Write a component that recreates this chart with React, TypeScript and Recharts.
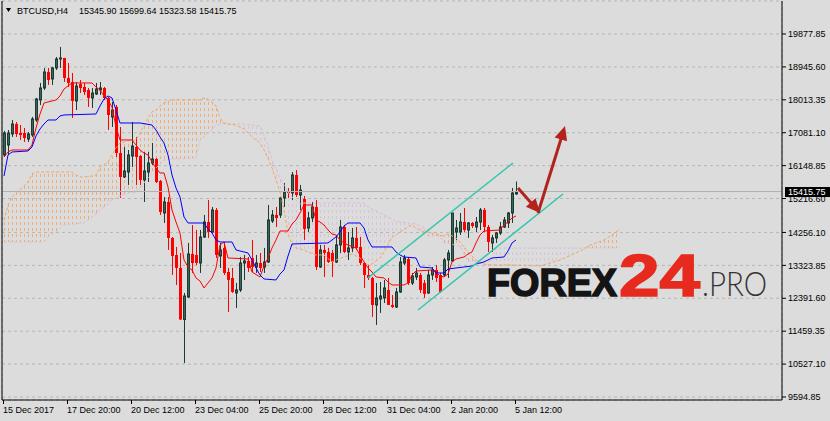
import React from "react";
import {
  ComposedChart,
  Bar,
  Line,
  Area,
  XAxis,
  YAxis,
  CartesianGrid,
  ReferenceLine,
} from "recharts";

const W = 830;
const H = 421;
const FONT = "'Liberation Sans', Arial, sans-serif";

const symbol = "BTCUSD,H4";
const totalBars = 195;

const xLabels = [
  "15 Dec 2017",
  "17 Dec 20:00",
  "20 Dec 12:00",
  "23 Dec 04:00",
  "25 Dec 20:00",
  "28 Dec 12:00",
  "31 Dec 04:00",
  "2 Jan 20:00",
  "5 Jan 12:00",
];
const xLabelEvery = 16;
const gridEvery = 8;

const yTicks = [
  9594.85, 10527.1, 11459.35, 12391.6, 13323.85, 14256.1, 15216.6, 16148.85,
  17081.1, 18013.35, 18945.6, 19877.85,
];

// BTCUSD H4 candles
const opens = [
  16450, 16734, 17046, 17329, 17074, 17074, 16904, 17017, 17442, 18009,
  18349, 18802, 18604, 18916, 19170, 19199, 18633, 18519, 17981, 18463,
  18377, 18292, 18066, 18179, 18292, 18349, 18066, 17528, 17811, 16507,
  15828, 15969, 16422, 16677, 16422, 15743, 15969, 16224, 16337, 15714,
  14808, 15119, 14100, 13618, 13250, 11790, 12428, 13647, 13618, 13391,
  14128, 14552, 14269, 14893, 13590, 13817, 13136, 12967, 12542, 12627,
  13391, 13448, 13533, 13278, 13391, 13278, 13419, 14581, 14751, 14751,
  15233, 15402, 15374, 15885, 15317, 15204, 14383, 14666, 14978, 13278,
  13760, 13703, 13675, 13419, 13902, 14411, 13703, 13817, 14100, 13845,
  13391, 13051, 12967, 12202, 12371, 12400, 12627, 12202, 12145, 12570,
  13391, 13505, 12825, 12995, 13051, 12825, 12542, 13051, 13193, 13051,
  13051, 13476, 13448, 14269, 14269, 14552, 14326, 14524, 14411, 14552,
  14893, 14411, 13958, 14100, 14241, 14411, 14524, 14807, 15345.9,
];
const highs = [
  17131, 17159, 17442, 17385, 17300, 17215, 17102, 17528, 18066, 18491,
  18916, 18916, 18944, 19227, 19510, 19199, 19057, 18774, 18519, 18576,
  18491, 18349, 18349, 18491, 18519, 18377, 18094, 17952, 17867, 17244,
  16677, 16592, 17385, 16961, 16450, 16535, 16535, 16791, 16365, 15743,
  15261, 15261, 14128, 13845, 13675, 12542, 13958, 14467, 14326, 14326,
  14751, 15176, 14978, 14949, 13958, 13986, 13250, 13250, 12825, 13561,
  13618, 13561, 14043, 13618, 13675, 13817, 15034, 14893, 14978, 15261,
  15658, 15516, 15969, 16026, 15601, 15289, 14836, 15119, 15176, 13902,
  13902, 13817, 13760, 14184, 14609, 14467, 14269, 14383, 14411, 14128,
  13419, 13334, 12995, 12825, 12853, 12910, 12967, 12485, 12684, 13561,
  13618, 13561, 13108, 13250, 13108, 12910, 13193, 13278, 13334, 13108,
  13533, 13760, 14807, 14609, 14807, 14949, 14552, 14552, 14694, 14949,
  14949, 14467, 14184, 14269, 14552, 14694, 14836, 15516, 15699.64,
];
const lows = [
  16394, 16450, 16961, 16961, 16876, 16819, 16819, 16961, 17385, 17867,
  18292, 18434, 18434, 18859, 18916, 18519, 18377, 17499, 17726, 18207,
  18150, 17811, 17782, 18150, 18150, 18009, 17159, 17244, 16394, 15233,
  15800, 15601, 16111, 15601, 15601, 15119, 15686, 16167, 15658, 14751,
  14524, 13760, 13051, 12768, 11776, 10558, 12400, 13108, 13334, 13108,
  14100, 14100, 14241, 13533, 13250, 13051, 12003, 12542, 12116, 12570,
  12910, 13136, 13136, 13108, 13136, 13108, 13391, 14524, 14411, 14666,
  14978, 15233, 15176, 15261, 14893, 14043, 14269, 14552, 13193, 13250,
  12995, 13391, 12995, 13391, 13675, 13675, 13476, 13703, 13760, 13334,
  12684, 12910, 11862, 11635, 11975, 12258, 12258, 12116, 12116, 12542,
  13334, 12768, 12768, 12910, 12542, 12400, 12514, 12910, 12853, 12542,
  12995, 12967, 13419, 14043, 14184, 14269, 14100, 14383, 14269, 14326,
  14269, 13703, 13703, 13958, 14184, 14383, 14383, 14524, 15323.58,
];
const closes = [
  17074, 17074, 17329, 17046, 17017, 16932, 17046, 17471, 18037, 18349,
  18802, 18576, 18916, 19170, 19199, 18633, 18491, 17981, 18405, 18349,
  18235, 18066, 18207, 18320, 18349, 18066, 17584, 17726, 16507, 15828,
  15998, 16450, 16706, 16394, 15743, 15998, 16224, 16337, 15686, 14836,
  15119, 14100, 13590, 13250, 11790, 12456, 13647, 13391, 13391, 14128,
  14552, 14269, 14893, 13618, 13760, 13108, 12910, 12570, 12627, 13391,
  13448, 13250, 13278, 13391, 13250, 13419, 14609, 14751, 14666, 15233,
  15402, 15374, 15885, 15317, 15459, 14354, 14666, 14978, 13278, 13760,
  13675, 13419, 13419, 13902, 14411, 13703, 13817, 14100, 13817, 13391,
  13051, 12967, 12202, 12400, 12457, 12684, 12202, 12145, 12570, 13419,
  13533, 12825, 13023, 13108, 12627, 12514, 13051, 13193, 12967, 12570,
  13476, 13675, 14807, 14383, 14552, 14326, 14524, 14439, 14552, 14893,
  14411, 13986, 14100, 14241, 14411, 14609, 14807, 15374, 15415.75,
];

// Ichimoku: Tenkan-sen (red) turning points
const tenkanBars = [
  0, 1, 2, 6, 7, 8, 9, 10, 13, 14, 15, 16, 17, 22, 23, 24, 25, 26, 27, 28, 29,
  32, 33, 34, 35, 36, 37, 38, 39, 40, 41, 42, 43, 44, 45, 46, 47, 48, 49, 50,
  51, 52, 53, 54, 55, 56, 61, 62, 64, 65, 66, 67, 68, 69, 71, 72, 73, 74, 75,
  77, 78, 79, 80, 81, 82, 83, 84, 85, 86, 88, 89, 90, 91, 92, 93, 95, 96, 97,
  100, 101, 102, 103, 107, 108, 109, 110, 111, 112, 113, 115, 116, 117, 118,
  119, 120, 124, 125, 126, 127, 128,
];
const tenkanVals = [
  16394, 16536, 16592, 16592, 16734, 17215, 17612, 17924, 18009, 18122, 18320,
  18405, 18491, 18491, 18377, 18292, 18122, 18009, 17811, 17244, 16876, 16876,
  16734, 16592, 16507, 16450, 16252, 16082, 15941, 15941, 15544, 14893, 14552,
  14241, 13476, 13278, 13193, 12967, 12881, 12683, 12825, 12967, 13250, 13901,
  13986, 13533, 13505, 13136, 12995, 13306, 13533, 13816, 14043, 14297, 14297,
  14496, 14609, 14808, 15034, 15034, 14609, 14552, 14467, 14326, 14212, 14184,
  14043, 13958, 13901, 13816, 13618, 13420, 13250, 13136, 12995, 12967, 12853,
  12768, 12768, 12825, 13051, 13164, 13193, 13136, 13023, 12995, 13079, 13420,
  13505, 13561, 13646, 13703, 13958, 14184, 14297, 14326, 14467, 14552, 14666,
  14722,
];

// Kijun-sen (blue) turning points
const kijunBars = [
  0, 1, 2, 6, 7, 8, 9, 10, 11, 13, 14, 15, 23, 24, 25, 26, 27, 28, 29, 34, 37,
  38, 39, 40, 41, 42, 43, 44, 45, 46, 50, 51, 52, 53, 54, 57, 58, 61, 62, 63,
  64, 65, 68, 69, 70, 71, 72, 81, 82, 83, 84, 85, 86, 89, 90, 91, 92, 97, 98,
  99, 100, 103, 104, 107, 108, 110, 111, 117, 118, 120, 122, 125, 126, 127, 128,
];
const kijunVals = [
  15856, 16450, 16536, 16564, 16677, 16989, 17187, 17329, 17442, 17442, 17556,
  17584, 17612, 17839, 18037, 18122, 18066, 17726, 17357, 17357, 17300, 17159,
  16961, 16791, 16450, 15884, 15516, 15261, 14694, 14524, 14524, 14354, 14241,
  14043, 13986, 13986, 13760, 13675, 13476, 13250, 13051, 12938, 12910, 13079,
  13193, 13589, 13930, 13958, 14043, 14128, 14269, 14439, 14524, 14524, 14382,
  14043, 13845, 13845, 13703, 13618, 13561, 13533, 13278, 13250, 13108, 13108,
  13221, 13306, 13363, 13420, 13533, 13561, 13731, 13958, 14043,
];

// Senkou span A / B (cloud), shifted 26 bars ahead
const kumoBars = [
  0, 1, 2, 5, 6, 7, 8, 10, 11, 13, 15, 17, 18, 19, 20, 22, 23, 24, 26, 27, 28,
  29, 31, 33, 34, 35, 36, 37, 38, 39, 40, 42, 48, 49, 50, 51, 52, 53, 54, 55,
  56, 58, 60, 62, 64, 65, 66, 67, 68, 69, 70, 71, 72, 73, 74, 75, 76, 78, 80,
  82, 83, 85, 87, 89, 90, 91, 92, 94, 95, 96, 97, 98, 99, 101, 102, 103, 104,
  105, 106, 107, 109, 110, 111, 112, 113, 114, 115, 116, 118, 119, 121, 122,
  123, 126, 134, 139, 143, 145, 146, 150, 152, 154,
];
const spanA = [
  14609, 15034, 15261, 15573, 15686, 15913, 15969, 15969, 15969, 15969, 15969,
  15969, 15884, 15828, 15828, 15856, 15884, 16111, 16252, 16450, 16649, 16791,
  16848, 16876, 17074, 17300, 17499, 17669, 17726, 17839, 17924, 18009, 18009,
  18009, 18066, 18037, 17952, 17839, 17499, 17357, 17329, 17300, 17187, 16961,
  16791, 16592, 16365, 16082, 15743, 15402, 14893, 14241, 13901, 13817, 13788,
  13760, 13703, 13618, 13618, 13420, 13476, 13561, 13646, 13533, 13420, 13335,
  13363, 13533, 13703, 13901, 14128, 14184, 14269, 14411, 14467, 14382, 14326,
  14269, 14269, 14241, 14184, 14156, 14212, 14156, 14099, 13986, 13845, 13703,
  13476, 13391, 13335, 13335, 13335, 13335, 13306, 13476, 13675, 13788, 13873,
  14043, 14184, 14354,
];
const spanB = [
  13986, 13986, 13986, 13986, 13986, 13986, 13986, 13986, 14128, 14269, 14467,
  14496, 14496, 14524, 14524, 14694, 14779, 14893, 15062, 15176, 15233, 15289,
  15374, 15402, 15516, 15657, 15799, 15969, 16082, 16195, 16309, 16337, 16365,
  16876, 16961, 17074, 17159, 17300, 17329, 17329, 17329, 17329, 17329, 17300,
  17272, 17017, 16734, 16309, 16082, 15799, 15601, 15402, 15261, 15176, 15062,
  15091, 15091, 15091, 15091, 15091, 15091, 15091, 15091, 15091, 15091, 14978,
  14921, 14808, 14751, 14694, 14638, 14581, 14552, 14524, 14524, 14496, 14439,
  14382, 14156, 14156, 14156, 13958, 13958, 13930, 13873, 13873, 13646, 13448,
  13448, 13448, 13448, 13448, 13817, 13817, 13817, 13817, 13817, 13817, 13817,
  13817, 13817, 13817,
];

// hand-drawn objects: [bar, price]
const channelUpper = [
  [91, 12967],
  [127.25, 16224],
];
const channelLower = [
  [103.5, 12060],
  [139.75, 15346],
];
const arrowDown = [
  [128.5, 15516],
  [134, 14808],
];
const arrowUp = [
  [133.5, 14808],
  [140.25, 17272],
];

const BG = "#dcdcdc";
const GRID = "#b6b6b6";
const BULL = "#33685a";
const BULL_EDGE = "#1e3a32";
const BEAR = "#ff0000";
const TENKAN = "#ff0000";
const KIJUN = "#0000ff";
const SPAN_A = "#f4a460";
const SPAN_B = "#d8bfd8";
const CHANNEL = "#33c6ae";
const ARROW = "#b3231e";

const last = opens.length - 1;
const lastClose = closes[last];

const rows = Array.from({ length: totalBars }, (_, i) =>
  i < opens.length
    ? { i, hl: [lows[i], highs[i]], o: opens[i], c: closes[i] }
    : { i }
);

const tenkanData = tenkanBars.map((b, k) => ({ i: b, v: tenkanVals[k] }));
const kijunData = kijunBars.map((b, k) => ({ i: b, v: kijunVals[k] }));
const spanAData = kumoBars.map((b, k) => ({ i: b, v: spanA[k] }));
const spanBData = kumoBars.map((b, k) => ({ i: b, v: spanB[k] }));

// split the cloud where the spans cross, so each piece gets its own hatch colour
type Seg = { up: boolean; pts: { i: number; r: number[] }[] };
const kumoSegs: Seg[] = [];
let lastUp: boolean | null = null;
kumoBars.forEach((b, k) => {
  const a = spanA[k];
  const s = spanB[k];
  const up = a === s && lastUp !== null ? lastUp : a > s;
  const pt = { i: b, r: [Math.min(a, s), Math.max(a, s)] };
  if (up !== lastUp) {
    if (kumoSegs.length) kumoSegs[kumoSegs.length - 1].pts.push(pt);
    kumoSegs.push({ up, pts: [pt] });
    lastUp = up;
  } else {
    kumoSegs[kumoSegs.length - 1].pts.push(pt);
  }
});

const gridBars = Array.from(
  { length: Math.floor((totalBars - 1) / gridEvery) },
  (_, k) => (k + 1) * gridEvery
);

const Candle = (p: any) => {
  const { x, y, height, payload } = p;
  if (!payload || payload.o == null) return null;
  const [lo, hi] = payload.hl;
  const top = Math.min(y, y + height);
  const h = Math.abs(height);
  const k = hi === lo ? 0 : h / (hi - lo);
  const bTop = top + (hi - Math.max(payload.o, payload.c)) * k;
  const bBot = top + (hi - Math.min(payload.o, payload.c)) * k;
  const bx = Math.round(x);
  const cx = bx + 1.5;
  const up = payload.c >= payload.o;
  const bh = Math.max(bBot - bTop, 1);
  return (
    <g>
      <line
        x1={cx}
        x2={cx}
        y1={top}
        y2={top + h}
        stroke={up ? BULL_EDGE : BEAR}
        strokeWidth={1}
      />
      {up ? (
        <rect
          x={bx + 0.5}
          y={bTop}
          width={2}
          height={bh}
          fill={BULL}
          stroke={BULL_EDGE}
          strokeWidth={1}
        />
      ) : (
        <rect x={bx} y={bTop} width={3} height={bh} fill={BEAR} />
      )}
    </g>
  );
};

const XTick = (p: any) => {
  const { x, y, payload } = p;
  const v = payload.value;
  if (v % xLabelEvery !== 0 || v / xLabelEvery >= xLabels.length) return null;
  const tx = Math.round(x) - 1;
  return (
    <g>
      <line x1={tx + 0.5} x2={tx + 0.5} y1={y} y2={y + 4} stroke="#000" />
      <text x={tx} y={y + 13} fontSize={9} fontFamily={FONT} fill="#000">
        {xLabels[v / xLabelEvery]}
      </text>
    </g>
  );
};

const PriceTag = (p: any) => {
  const vb = p.viewBox || {};
  const x = vb.x + vb.width + 3;
  const y = vb.y;
  return (
    <g>
      <rect x={x} y={y - 4.5} width={45} height={10} fill="#000" />
      <text
        x={x + 3}
        y={y + 3.5}
        fontSize={9}
        fontFamily={FONT}
        fill="#fff"
      >
        {lastClose.toFixed(2)}
      </text>
    </g>
  );
};

const ArrowShape = (p: any) => {
  const { x1, y1, x2, y2 } = p;
  const dx = x2 - x1;
  const dy = y2 - y1;
  const len = Math.hypot(dx, dy) || 1;
  const ux = dx / len;
  const uy = dy / len;
  const hl = 14;
  const hw = 6.5;
  const bx = x2 - ux * hl;
  const by = y2 - uy * hl;
  return (
    <g>
      <line
        x1={x1}
        y1={y1}
        x2={bx + ux * 2}
        y2={by + uy * 2}
        stroke={ARROW}
        strokeWidth={3}
      />
      <polygon
        points={`${x2},${y2} ${bx - uy * hw},${by + ux * hw} ${bx + uy * hw},${
          by - ux * hw
        }`}
        fill={ARROW}
      />
    </g>
  );
};

const seg = (pts: number[][]) => pts.map(([x, y]) => ({ x, y }));

export default function App() {
  return (
    <div
      style={{
        position: "fixed",
        left: 0,
        top: 0,
        width: W,
        height: H,
        background: BG,
        overflow: "hidden",
      }}
    >
      <ComposedChart
        width={W}
        height={H}
        data={rows}
        margin={{ top: 1, right: 0, bottom: 0, left: 2 }}
      >
        <defs>
          <pattern
            id="hatchUp"
            patternUnits="userSpaceOnUse"
            x={0}
            y={0}
            width={4}
            height={6}
          >
            <rect x={0} y={0} width={1} height={3} fill={SPAN_A} />
          </pattern>
          <pattern
            id="hatchDn"
            patternUnits="userSpaceOnUse"
            x={0}
            y={0}
            width={4}
            height={6}
          >
            <rect x={0} y={0} width={1} height={3} fill={SPAN_B} />
          </pattern>
        </defs>
        <XAxis
          dataKey="i"
          type="category"
          interval={0}
          height={21}
          tickSize={0}
          tickMargin={0}
          tickLine={false}
          axisLine={{ stroke: "#000" }}
          tick={<XTick />}
        />
        <XAxis
          xAxisId="num"
          dataKey="i"
          type="number"
          orientation="top"
          domain={[-0.5, totalBars - 0.5]}
          allowDataOverflow
          ticks={gridBars}
          height={0}
          tick={false}
          tickLine={false}
          axisLine={false}
        />
        <YAxis
          orientation="right"
          width={48}
          type="number"
          domain={[9509.8, 20812.7]}
          allowDataOverflow
          ticks={yTicks}
          interval={0}
          tickSize={4}
          tickMargin={2}
          tickFormatter={(v: number) => v.toFixed(2)}
          tick={{ fontSize: 9, fontFamily: FONT, fill: "#000" }}
          tickLine={{ stroke: "#000" }}
          axisLine={{ stroke: "#000" }}
        />
        <CartesianGrid
          xAxisId="num"
          stroke={GRID}
          strokeDasharray="3 3"
        />
        {kumoSegs.map((s, k) => (
          <Area
            key={"kumo" + k}
            xAxisId="num"
            data={s.pts}
            dataKey="r"
            type="linear"
            stroke="none"
            fill={s.up ? "url(#hatchUp)" : "url(#hatchDn)"}
            fillOpacity={0.85}
            dot={false}
            activeDot={false}
            isAnimationActive={false}
          />
        ))}
        <Line
          xAxisId="num"
          data={spanBData}
          dataKey="v"
          type="linear"
          stroke={SPAN_B}
          strokeDasharray="3 2"
          dot={false}
          activeDot={false}
          isAnimationActive={false}
        />
        <Line
          xAxisId="num"
          data={spanAData}
          dataKey="v"
          type="linear"
          stroke={SPAN_A}
          strokeDasharray="3 2"
          dot={false}
          activeDot={false}
          isAnimationActive={false}
        />
        <ReferenceLine
          y={lastClose}
          stroke="#b0b0b0"
          label={(p: any) => <PriceTag {...p} />}
        />
        <Bar
          dataKey="hl"
          barSize={3}
          shape={<Candle />}
          isAnimationActive={false}
        />
        <Line
          xAxisId="num"
          data={tenkanData}
          dataKey="v"
          type="linear"
          stroke={TENKAN}
          strokeWidth={1}
          dot={false}
          activeDot={false}
          isAnimationActive={false}
        />
        <Line
          xAxisId="num"
          data={kijunData}
          dataKey="v"
          type="linear"
          stroke={KIJUN}
          strokeWidth={1}
          dot={false}
          activeDot={false}
          isAnimationActive={false}
        />
        <ReferenceLine
          xAxisId="num"
          segment={seg(channelUpper)}
          stroke={CHANNEL}
          strokeWidth={1.5}
        />
        <ReferenceLine
          xAxisId="num"
          segment={seg(channelLower)}
          stroke={CHANNEL}
          strokeWidth={1.5}
        />
        <ReferenceLine
          xAxisId="num"
          segment={seg(arrowDown)}
          shape={ArrowShape}
        />
        <ReferenceLine
          xAxisId="num"
          segment={seg(arrowUp)}
          shape={ArrowShape}
        />
        <ReferenceLine xAxisId="num" x={-0.5} stroke="#000" />
      </ComposedChart>
      <svg
        width={W}
        height={H}
        style={{ position: "absolute", left: 0, top: 0, pointerEvents: "none" }}
      >
        <polygon points="6,8 11,8 8.5,12" fill="#000" />
        <text x={17} y={14} fontSize={9} fontFamily={FONT} fill="#000">
          {symbol}
        </text>
        {[opens[last], highs[last], lows[last], closes[last]].map((v, k) => (
          <text
            key={k}
            x={79 + k * 40}
            y={14}
            fontSize={9}
            fontFamily={FONT}
            fill="#000"
          >
            {v.toFixed(2)}
          </text>
        ))}
        <text
          x={487}
          y={296}
          fontSize={39}
          fontWeight="bold"
          fontFamily={FONT}
          fill="#141414"
          stroke="#141414"
          strokeWidth={1.6}
          textLength={130}
          lengthAdjust="spacingAndGlyphs"
        >
          FOREX
        </text>
        <text
          x={619}
          y={296}
          fontSize={60}
          fontWeight="bold"
          fontFamily={FONT}
          fill="#e62b1e"
          stroke="#e62b1e"
          strokeWidth={1.6}
          textLength={81}
          lengthAdjust="spacingAndGlyphs"
        >
          24
        </text>
        <text
          x={702}
          y={296}
          fontSize={33}
          fontWeight={300}
          fontFamily="Lato, 'Liberation Sans', sans-serif"
          fill="#333"
          textLength={65}
          lengthAdjust="spacingAndGlyphs"
        >
          .PRO
        </text>
      </svg>
    </div>
  );
}
